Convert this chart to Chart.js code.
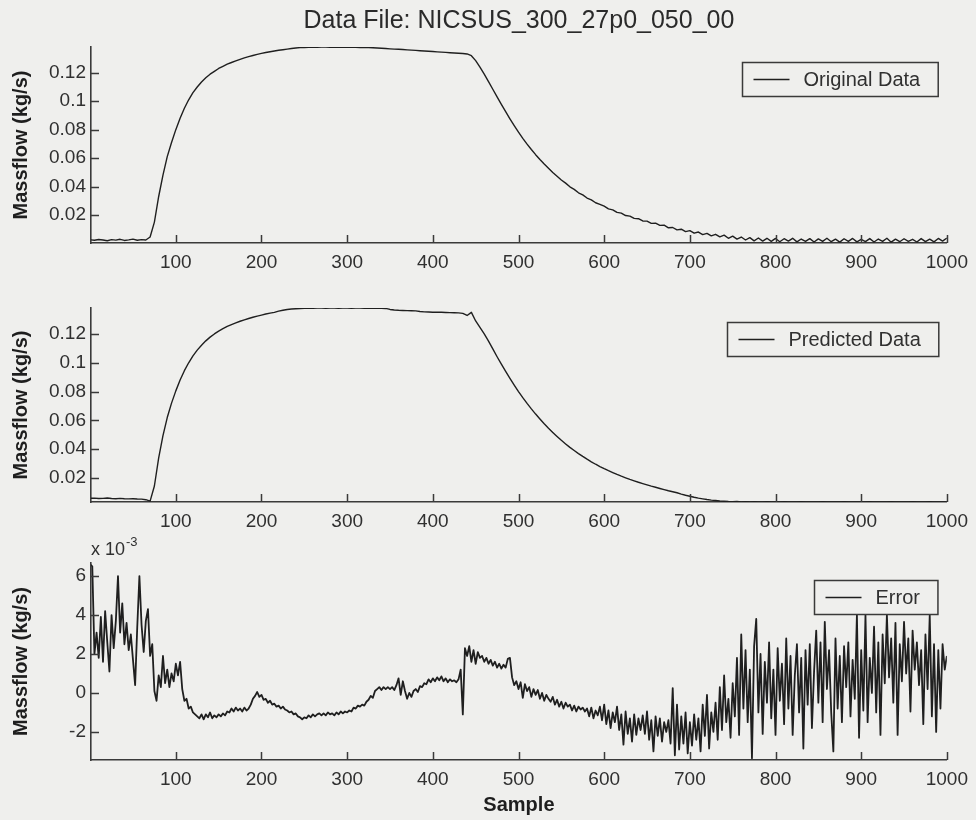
<!DOCTYPE html>
<html>
<head>
<meta charset="utf-8">
<title>NICSUS_300_27p0_050_00</title>
<script src="https://cdn.jsdelivr.net/npm/chart.js@4.4.1/dist/chart.umd.min.js"></script>
<style>
    html, body { margin: 0; padding: 0; background: #efefed; }
    #figure { position: relative; width: 976px; height: 820px; overflow: hidden; }
    .panel { position: absolute; left: 0; width: 976px; }
    .panel canvas { display: block; }
</style>
</head>
<body>
<div id="figure">
    <div class="panel" style="top:0;height:285px"><canvas id="originalChart"></canvas></div>
    <div class="panel" style="top:285px;height:250px"><canvas id="predictedChart"></canvas></div>
    <div class="panel" style="top:525px;height:295px"><canvas id="errorChart"></canvas></div>
</div>
<script>
const dataFile = 'NICSUS_300_27p0_050_00';

// massflow traces are logged every 5 samples, the error every 2.5 samples, both from sample 0
const flowStep = 5;
const errorStep = 2.5;

const sampleTicks = [100, 200, 300, 400, 500, 600, 700, 800, 900, 1000];
const flowTicks = [0.02, 0.04, 0.06, 0.08, 0.1, 0.12];
const errorTicks = [-2, 0, 2, 4, 6];

// kg/s
const originalFlow = [
    0.0026, 0.0022, 0.0028, 0.0024, 0.0019, 0.0027, 0.0023, 0.0029, 0.0021, 0.0025, 0.0030, 0.0022, 0.0027, 0.0024,
    0.0045, 0.0150, 0.0330, 0.0480, 0.0610, 0.0710, 0.0800, 0.0880, 0.0950, 0.1010, 0.1060, 0.1100, 0.1135, 0.1165,
    0.1190, 0.1210, 0.1230, 0.1245, 0.1260, 0.1272, 0.1283, 0.1294, 0.1304, 0.1313, 0.1321, 0.1329, 0.1336, 0.1342,
    0.1348, 0.1353, 0.1358, 0.1362, 0.1366, 0.1370, 0.1374, 0.1377, 0.1378,
    0.1379, 0.1380, 0.1379, 0.1380, 0.1380, 0.1379, 0.1380, 0.1379, 0.1379, 0.1380, 0.1379, 0.1379, 0.1378, 0.1379,
    0.1378, 0.1376, 0.1374, 0.1372, 0.1370, 0.1368, 0.1366, 0.1365, 0.1363, 0.1361, 0.1359, 0.1357, 0.1355, 0.1353,
    0.1351, 0.1349, 0.1347, 0.1345, 0.1343, 0.1341, 0.1339, 0.1337, 0.1335, 0.1332,
    0.1320, 0.1285, 0.1240, 0.1190, 0.1138, 0.1084, 0.1030, 0.0978, 0.0926, 0.0876, 0.0828, 0.0782, 0.0739, 0.0698,
    0.0660, 0.0624, 0.0590, 0.0558, 0.0528, 0.0499, 0.0472, 0.0446, 0.0424, 0.0398, 0.0380, 0.0356, 0.0341, 0.0319,
    0.0306, 0.0286, 0.0275,
    0.0262, 0.0243, 0.0236, 0.0218, 0.0213, 0.0196, 0.0192, 0.0176, 0.0174, 0.0158,
    0.0157, 0.0141, 0.0143, 0.0127, 0.0128, 0.0110, 0.0112, 0.0095, 0.0100, 0.0083,
    0.0090, 0.0072, 0.0080, 0.0062, 0.0071, 0.0053, 0.0064, 0.0046, 0.0058, 0.0036,
    0.0051, 0.0030, 0.0045, 0.0024, 0.0041, 0.0018, 0.0038, 0.0016, 0.0036, 0.0014,
    0.0035, 0.0012, 0.0033, 0.0016, 0.0036, 0.0011, 0.0031, 0.0015, 0.0034, 0.0010,
    0.0032, 0.0014, 0.0036, 0.0012, 0.0030, 0.0009, 0.0033, 0.0015, 0.0035, 0.0011,
    0.0029, 0.0013, 0.0034, 0.0010, 0.0031, 0.0014, 0.0036, 0.0009, 0.0030, 0.0012,
    0.0033, 0.0015, 0.0029, 0.0010, 0.0034, 0.0013, 0.0030, 0.0011, 0.0035, 0.0016,
    0.0038,
];

// kg/s
const predictedFlow = [
    0.0060, 0.0061, 0.0058, 0.0059, 0.0062, 0.0058, 0.0057, 0.0059, 0.0057, 0.0056, 0.0057, 0.0055, 0.0054, 0.0050,
    0.0040, 0.0145, 0.0340, 0.0495, 0.0620, 0.0720, 0.0805, 0.0880, 0.0945, 0.1000, 0.1048, 0.1088, 0.1122, 0.1152,
    0.1178, 0.1200, 0.1220, 0.1237, 0.1252, 0.1265, 0.1277, 0.1288, 0.1298, 0.1307, 0.1316, 0.1324, 0.1331, 0.1338,
    0.1344, 0.1350, 0.1358, 0.1364, 0.1370, 0.1373, 0.1375, 0.1377, 0.1378,
    0.1379, 0.1378, 0.1379, 0.1379, 0.1378, 0.1379, 0.1379, 0.1378, 0.1379, 0.1379, 0.1378, 0.1379, 0.1379, 0.1378,
    0.1379, 0.1378, 0.1379, 0.1378, 0.1377,
    0.1370, 0.1366, 0.1364, 0.1363, 0.1362, 0.1361, 0.1360, 0.1356, 0.1353, 0.1352, 0.1351, 0.1350, 0.1350, 0.1349,
    0.1348, 0.1347, 0.1346, 0.1343, 0.1328,
    0.1350, 0.1290, 0.1245, 0.1200, 0.1150, 0.1096, 0.1042, 0.0990, 0.0940, 0.0892, 0.0845, 0.0800, 0.0758, 0.0718,
    0.0680, 0.0644, 0.0610, 0.0577, 0.0546, 0.0517, 0.0489, 0.0462, 0.0437, 0.0413, 0.0391, 0.0370, 0.0350, 0.0331,
    0.0313, 0.0296, 0.0280,
    0.0265, 0.0251, 0.0238, 0.0225, 0.0213, 0.0202, 0.0191, 0.0181, 0.0171, 0.0162,
    0.0153, 0.0144, 0.0136, 0.0128, 0.0120, 0.0112, 0.0105, 0.0098, 0.0089, 0.0081,
    0.0074, 0.0067, 0.0061, 0.0056, 0.0051, 0.0047, 0.0044, 0.0041, 0.0039, 0.0037,
    0.0036, 0.0037, 0.0035, 0.0036, 0.0035, 0.0036, 0.0035, 0.0035, 0.0036, 0.0035,
    0.0035, 0.0035, 0.0036, 0.0035, 0.0035, 0.0035, 0.0036, 0.0035, 0.0035, 0.0035,
    0.0035, 0.0036, 0.0035, 0.0035, 0.0035, 0.0035, 0.0036, 0.0035, 0.0035, 0.0035,
    0.0035, 0.0035, 0.0036, 0.0035, 0.0035, 0.0035, 0.0035, 0.0036, 0.0035, 0.0035,
    0.0035, 0.0035, 0.0036, 0.0035, 0.0035, 0.0035, 0.0036, 0.0035, 0.0035, 0.0035,
    0.0035,
];

// x 10^-3 kg/s, one row per 50 samples
const predictionError = [
    6.6, 6.5, 2.0, 3.1, 1.8, 3.9, 1.6, 4.2, 2.6, 1.1, 4.0, 2.3, 3.7, 6.0, 3.1, 4.6, 2.5, 3.6, 2.2, 3.0,
    1.7, 0.4, 3.4, 6.0, 3.5, 2.1, 3.7, 4.3, 1.9, 2.5, 0.1, -0.4, 0.9, 0.3, 1.9, 0.5, 1.2, 0.3, 1.0, 0.6,
    1.5, 0.9, 1.6, 0.2, -0.4, -0.3, -0.8, -0.7, -1.0, -1.1, -1.2, -1.3, -1.1, -1.35, -1.1, -1.25, -1.0, -1.3, -1.15, -1.25,
    -1.1, -1.2, -1.05, -1.15, -0.95, -1.0, -0.8, -0.95, -0.75, -0.9, -0.8, -0.95, -0.75, -0.9, -0.8, -0.6, -0.3, -0.15, 0.05, -0.2,
    -0.1, -0.35, -0.3, -0.5, -0.4, -0.6, -0.55, -0.7, -0.65, -0.8, -0.7, -0.85, -0.9, -1.0, -0.95, -1.1, -1.05, -1.2, -1.25, -1.35,
    -1.25, -1.3, -1.15, -1.25, -1.1, -1.2, -1.1, -1.05, -1.15, -1.05, -1.15, -1.0, -1.1, -1.05, -1.15, -1.0, -1.1, -0.95, -1.05, -0.95,
    -1.0, -0.9, -0.95, -0.75, -0.8, -0.65, -0.7, -0.6, -0.65, -0.45, -0.35, -0.15, -0.25, 0.1, 0.2, 0.3, 0.15, 0.3, 0.2, 0.3,
    0.2, 0.3, 0.15, 0.4, 0.75, -0.1, 0.6, 0.1, -0.3, 0.0, -0.2, 0.1, 0.2, 0.05, 0.35, 0.3, 0.5, 0.45, 0.7, 0.55,
    0.75, 0.6, 0.8, 0.65, 0.85, 0.6, 0.75, 0.55, 0.7, 0.6, 0.65, 0.55, 0.7, 1.2, -1.1, 2.3, 1.9, 2.4, 1.6, 2.2,
    1.5, 2.1, 1.8, 1.9, 1.6, 1.8, 1.5, 1.7, 1.4, 1.6, 1.3, 1.5, 1.25, 1.45, 1.3, 1.75, 1.8, 0.8, 0.4, 0.6,
    0.2, 0.55, -0.25, 0.45, 0.1, 0.3, -0.2, 0.2, -0.1, 0.15, -0.3, 0.0, -0.4, -0.1, -0.3, -0.45, -0.2, -0.6, -0.35, -0.7,
    -0.45, -0.8, -0.5, -0.7, -0.6, -0.9, -0.65, -0.95, -0.7, -0.85, -0.75, -0.95, -0.8, -1.2, -0.75, -1.3, -0.9, -1.15, -0.7, -1.4,
    -0.6, -1.6, -0.9, -1.8, -1.0, -1.5, -0.7, -1.9, -1.1, -2.65, -0.95, -2.1, -1.3, -2.5, -1.1, -2.15, -1.3, -1.9, -1.15, -2.1,
    -0.95, -2.4, -1.4, -3.0, -1.2, -2.2, -1.3, -2.5, -1.5, -2.0, -1.4, -2.6, 0.25, -3.2, -0.6, -2.9, -1.2, -2.6, -1.0, -3.1,
    -1.5, -2.7, -1.1, -2.4, -1.3, -3.0, -0.6, -2.2, -0.1, -2.85, -1.0, -2.0, -0.5, -2.4, 0.3, -1.9, 0.9, -1.5, -0.3, -2.3,
    0.5, -1.2, 1.8, -2.15, 3.0, -0.8, 2.2, -1.5, 1.2, -3.35, 2.4, 3.8, -1.0, 2.0, -2.1, 1.6, -0.5, 2.6, -1.3, 1.2,
    -2.15, 2.3, -0.4, 1.5, -1.6, 2.8, -0.8, 1.9, -2.15, 0.9, 2.5, -1.0, 1.8, -2.85, 2.2, -0.6, 2.5, -1.8, 1.1, 3.2,
    -0.5, 2.6, -1.5, 3.65, 0.2, 2.2, -1.0, -3.0, 2.8, -0.8, 1.9, -1.5, 2.4, 0.3, 2.6, -1.2, 1.7, -0.3, 4.0, -2.3,
    2.2, -0.9, 4.0, -1.5, 1.8, 0.0, 3.4, -1.0, 2.6, -2.15, 3.0, 0.5, 4.0, 0.8, 2.8, -0.5, 3.6, -2.15, 2.5, 0.6,
    3.65, 1.0, 2.8, -0.95, 3.2, 1.2, 2.6, 0.4, 2.2, -1.6, 3.0, 0.2, 4.0, -1.2, 2.5, -2.0, 2.2, -0.8, 2.5, 1.2,
    1.9,
];

const paper = '#efefed';
const ink = '#1f1f1f';
const axisInk = '#3a3a3a';
const textInk = '#303030';
const fontFamily = '"Liberation Sans", Arial, Helvetica, sans-serif';

Chart.defaults.font.family = fontFamily;
Chart.defaults.color = textInk;

function toPoints(values, step) {
    return values.map((v, i) => ({ x: i * step, y: v }));
}

// MATLAB style tick marks that point into the axes
const inwardTicks = {
    id: 'inwardTicks',
    afterDraw(chart) {
        const { ctx, chartArea, scales } = chart;
        const len = 8;
        ctx.save();
        ctx.strokeStyle = axisInk;
        ctx.lineWidth = 1.5;
        ctx.beginPath();
        scales.x.ticks.forEach((t) => {
            const px = Math.round(scales.x.getPixelForValue(t.value)) + 0.5;
            ctx.moveTo(px, chartArea.bottom);
            ctx.lineTo(px, chartArea.bottom - len);
        });
        scales.y.ticks.forEach((t) => {
            const py = Math.round(scales.y.getPixelForValue(t.value)) + 0.5;
            ctx.moveTo(chartArea.left, py);
            ctx.lineTo(chartArea.left + len, py);
        });
        ctx.stroke();
        ctx.restore();
    },
};

// boxed legend in the upper right corner of the axes
const boxLegend = {
    id: 'boxLegend',
    afterDatasetsDraw(chart, args, opts) {
        const { ctx, chartArea } = chart;
        const label = chart.data.datasets[0].label;
        ctx.save();
        ctx.font = `20px ${fontFamily}`;
        const textW = ctx.measureText(label).width;
        const w = 11 + 36 + 14 + textW + 18;
        const h = 34;
        const x = Math.round(chartArea.right - opts.right - w) + 0.5;
        const y = Math.round(chartArea.top + opts.top) + 0.5;
        ctx.fillStyle = paper;
        ctx.fillRect(x, y, w, h);
        ctx.strokeStyle = axisInk;
        ctx.lineWidth = 1.5;
        ctx.strokeRect(x, y, w, h);
        ctx.strokeStyle = ink;
        ctx.lineWidth = 1.5;
        ctx.beginPath();
        ctx.moveTo(x + 11, y + h / 2);
        ctx.lineTo(x + 47, y + h / 2);
        ctx.stroke();
        ctx.fillStyle = textInk;
        ctx.textBaseline = 'middle';
        ctx.fillText(label, x + 61, y + h / 2 + 1);
        ctx.restore();
    },
};

// "x 10^-3" multiplier above the error axis
const exponentLabel = {
    id: 'exponentLabel',
    afterDraw(chart, args, opts) {
        if (!opts.power) {
            return;
        }
        const { ctx, chartArea } = chart;
        ctx.save();
        ctx.fillStyle = textInk;
        ctx.textBaseline = 'alphabetic';
        ctx.font = `18px ${fontFamily}`;
        const x = chartArea.left;
        const y = chartArea.top - 8;
        ctx.fillText('x 10', x, y);
        const w = ctx.measureText('x 10').width;
        ctx.font = `13px ${fontFamily}`;
        ctx.fillText(opts.power, x + w + 1, y - 9);
        ctx.restore();
    },
};

function panelOptions(cfg) {
    return {
        responsive: true,
        maintainAspectRatio: false,
        animation: false,
        events: [],
        layout: { padding: { top: cfg.padTop, right: 25, bottom: 0, left: 0 } },
        plugins: {
            legend: { display: false },
            tooltip: { enabled: false },
            title: cfg.title
                ? {
                    display: true,
                    text: cfg.title,
                    fullSize: false,
                    color: '#2a2a2a',
                    font: { size: 25, weight: 'normal' },
                    padding: { top: 6, bottom: 11 },
                }
                : { display: false },
            boxLegend: { top: cfg.legendTop, right: 9 },
            exponentLabel: { power: cfg.power || '' },
        },
        scales: {
            x: {
                type: 'linear',
                min: 1,
                max: 1000,
                afterBuildTicks: (scale) => {
                    scale.ticks = sampleTicks.map((v) => ({ value: v }));
                },
                afterFit: (scale) => {
                    scale.height = cfg.xHeight;
                },
                grid: { display: false, drawTicks: false },
                border: { display: true, color: axisInk, width: 1.6 },
                ticks: {
                    padding: 8,
                    autoSkip: false,
                    maxRotation: 0,
                    color: textInk,
                    font: { size: 19 },
                    callback: (v) => String(v),
                },
                title: cfg.xTitle
                    ? {
                        display: true,
                        text: cfg.xTitle,
                        color: '#1e1e1e',
                        font: { size: 20, weight: 'bold' },
                        padding: { top: 0, bottom: 3 },
                    }
                    : { display: false },
            },
            y: {
                type: 'linear',
                min: cfg.yMin,
                max: cfg.yMax,
                afterBuildTicks: (scale) => {
                    scale.ticks = cfg.yTicks.map((v) => ({ value: v }));
                },
                afterFit: (scale) => {
                    scale.width = 91;
                },
                grid: { display: false, drawTicks: false },
                border: { display: true, color: axisInk, width: 1.6 },
                ticks: {
                    padding: 5,
                    color: textInk,
                    font: { size: 19 },
                    callback: (v) => String(v),
                },
                title: {
                    display: true,
                    text: 'Massflow (kg/s)',
                    color: '#1e1e1e',
                    font: { size: 20, weight: 'bold' },
                    padding: { top: 9, bottom: 0 },
                },
            },
        },
    };
}

function lineDataset(label, values, step, width) {
    return {
        label,
        data: toPoints(values, step),
        borderColor: ink,
        borderWidth: width,
        pointRadius: 0,
        tension: 0,
        fill: false,
        borderJoinStyle: 'round',
    };
}

function initMassflowCharts() {
    new Chart(document.getElementById('originalChart'), {
        type: 'line',
        data: { datasets: [lineDataset('Original Data', originalFlow, flowStep, 1.4)] },
        options: panelOptions({
            title: `Data File: ${dataFile}`,
            padTop: 0,
            xHeight: 42,
            yMin: 0.0003,
            yMax: 0.1381,
            yTicks: flowTicks,
            legendTop: 15,
        }),
        plugins: [inwardTicks, boxLegend, exponentLabel],
    });

    new Chart(document.getElementById('predictedChart'), {
        type: 'line',
        data: { datasets: [lineDataset('Predicted Data', predictedFlow, flowStep, 1.4)] },
        options: panelOptions({
            padTop: 23,
            xHeight: 33,
            yMin: 0.0034,
            yMax: 0.1380,
            yTicks: flowTicks,
            legendTop: 14,
        }),
        plugins: [inwardTicks, boxLegend, exponentLabel],
    });

    new Chart(document.getElementById('errorChart'), {
        type: 'line',
        data: { datasets: [lineDataset('Error', predictionError, errorStep, 1.8)] },
        options: panelOptions({
            padTop: 38,
            xHeight: 60,
            xTitle: 'Sample',
            yMin: -3.44,
            yMax: 6.67,
            yTicks: errorTicks,
            legendTop: 17,
            power: '-3',
        }),
        plugins: [inwardTicks, boxLegend, exponentLabel],
    });
}

document.addEventListener('DOMContentLoaded', initMassflowCharts);
</script>
</body>
</html>
